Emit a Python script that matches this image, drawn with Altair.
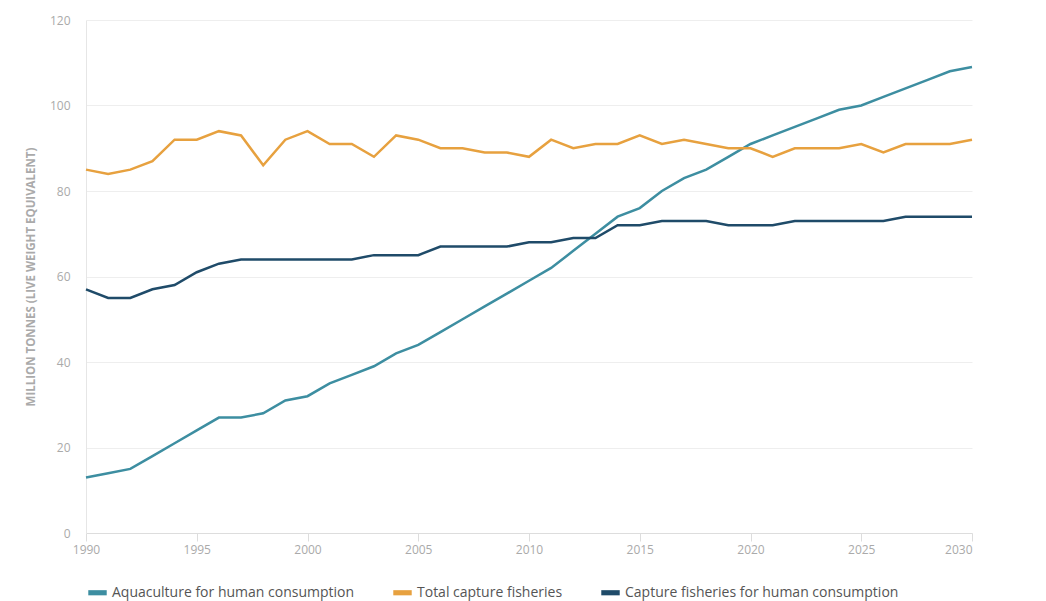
import altair as alt
import pandas as pd

years = list(range(1990, 2031))

aquaculture = [13, 14, 15, 18, 21, 24, 27, 27, 28, 31, 32, 35, 37, 39, 42, 44, 47, 50, 53, 56,
               59, 62, 66, 70, 74, 76, 80, 83, 85, 88, 91, 93, 95, 97, 99, 100, 102, 104, 106, 108, 109]
total_capture = [85, 84, 85, 87, 92, 92, 94, 93, 86, 92, 94, 91, 91, 88, 93, 92, 90, 90, 89, 89,
                 88, 92, 90, 91, 91, 93, 91, 92, 91, 90, 90, 88, 90, 90, 90, 91, 89, 91, 91, 91, 92]
capture_human = [57, 55, 55, 57, 58, 61, 63, 64, 64, 64, 64, 64, 64, 65, 65, 65, 67, 67, 67, 67,
                 68, 68, 69, 69, 72, 72, 73, 73, 73, 72, 72, 72, 73, 73, 73, 73, 73, 74, 74, 74, 74]

series_names = ["Aquaculture for human consumption", "Total capture fisheries",
                "Capture fisheries for human consumption"]
series_colors = ["#3d8ea1", "#e7a13f", "#1f4b69"]
x_ticks = [1990, 1995, 2000, 2005, 2010, 2015, 2020, 2025, 2030]
y_ticks = [0, 20, 40, 60, 80, 100, 120]

rows = []
for name, vals in zip(series_names, [aquaculture, total_capture, capture_human]):
    for y, v in zip(years, vals):
        rows.append({"year": y, "value": v, "series": name})
df = pd.DataFrame(rows)

FONT = "Open Sans"
LEGEND_SHAPE = "M-1,-0.28H1V0.28H-1Z"

x_enc = alt.X("year:Q",
              scale=alt.Scale(domain=[1990, 2030], nice=False, zero=False),
              axis=alt.Axis(values=x_ticks, format="d", title=None, grid=False,
                            domainColor="#dddddd", tickColor="#dddddd", tickSize=8,
                            labelColor="#aaaaaa", labelFontSize=12, labelFont=FONT,
                            labelPadding=3,
                            labelAlign=alt.ExprRef(expr="datum.value == 2030 ? 'right' : 'center'")))
y_enc = alt.Y("value:Q",
              scale=alt.Scale(domain=[0, 120], nice=False),
              axis=alt.Axis(values=y_ticks, title="MILLION TONNES (LIVE WEIGHT EQUIVALENT)",
                            titleFont=FONT, titleFontSize=11.5, titleFontWeight="bold",
                            titleColor="#aaaaaa", titlePadding=13,
                            grid=True, gridColor="#eeeeee", ticks=False,
                            domainColor="#e6e6e6", labelColor="#aaaaaa", labelFontSize=12,
                            labelFont=FONT, labelPadding=16))

base = alt.Chart(df)

lines = base.mark_line(strokeWidth=2.5).encode(
    x=x_enc, y=y_enc,
    stroke=alt.Stroke("series:N", scale=alt.Scale(domain=series_names, range=series_colors),
                      sort=series_names, legend=None),
)

legend_layer = base.mark_point(shape=LEGEND_SHAPE, filled=True, size=0, strokeWidth=0).encode(
    x=x_enc, y=y_enc,
    fill=alt.Fill("series:N", scale=alt.Scale(domain=series_names, range=series_colors),
                  sort=series_names,
                  legend=alt.Legend(title=None, orient="none", direction="horizontal",
                                    legendX=2, legendY=563,
                                    symbolType=LEGEND_SHAPE, symbolSize=340,
                                    symbolStrokeWidth=0, symbolOpacity=1,
                                    labelFont=FONT, labelFontSize=14, labelColor="#555555",
                                    labelOffset=5, columnPadding=38, labelLimit=0)),
)

chart = alt.layer(lines, legend_layer).resolve_scale(stroke="independent", fill="independent").properties(
    width=886, height=513,
    autosize=alt.AutoSizeParams(type="none"),
    padding={"left": 78, "top": 12, "right": 60, "bottom": 80},
).configure_view(stroke=None)

chart.save("out.html", embed_options={"renderer": "svg", "actions": False})
